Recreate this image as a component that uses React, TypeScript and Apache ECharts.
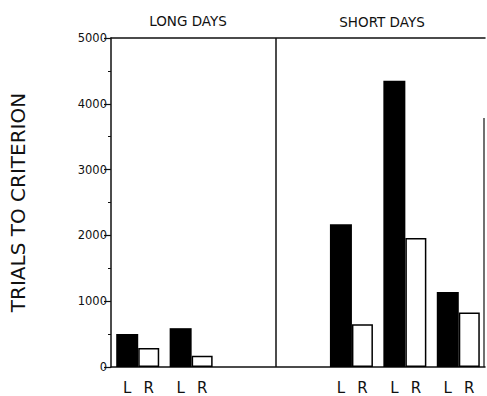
import React, { useEffect, useRef } from "react";
import * as echarts from "echarts";

const categories = ["Long 1", "Long 2", "gap a", "gap b", "Short 1", "Short 2", "Short 3"];
const leftValues: (number | null)[] = [500, 590, null, null, 2170, 4350, 1140];
const rightValues: (number | null)[] = [290, 170, null, null, 650, 1960, 830];
const yTicks = [0, 1000, 2000, 3000, 4000, 5000];
const panelTitles = ["LONG DAYS", "SHORT DAYS"];
const yAxisTitle = "TRIALS TO CRITERION";

export default function App() {
  const ref = useRef<HTMLDivElement>(null);
  useEffect(() => {
    document.body.style.margin = "0";
    if (!ref.current) return;
    const chart = echarts.init(ref.current, null, { renderer: "svg" });
    const gridLeft = 111;
    const gridTop = 38;
    const gridWidth = 374;
    const gridHeight = 329;
    const ink = "#111";
    const font = "DejaVu Sans";
    chart.setOption({
      animation: false,
      backgroundColor: "#fff",
      grid: { left: gridLeft, top: gridTop, width: gridWidth, height: gridHeight },
      xAxis: [
        {
          type: "category",
          data: categories,
          axisLine: { show: true, lineStyle: { color: ink, width: 1.5 } },
          axisTick: { show: false },
          axisLabel: { show: false },
          splitLine: { show: false },
        },
        {
          type: "category",
          position: "top",
          data: categories,
          axisLine: { show: true, lineStyle: { color: ink, width: 1.5 } },
          axisTick: { show: false },
          axisLabel: { show: false },
        },
      ],
      yAxis: {
        type: "value",
        min: yTicks[0],
        max: yTicks[yTicks.length - 1],
        interval: 1000,
        name: yAxisTitle,
        nameLocation: "middle",
        nameGap: 83,
        nameTextStyle: { fontFamily: font, fontSize: 20, color: ink },
        axisLine: { show: true, lineStyle: { color: ink, width: 1.5 } },
        axisTick: { show: true, length: 7, lineStyle: { color: ink, width: 1.2 } },
        minorTick: { show: true, splitNumber: 2, length: 3, lineStyle: { color: ink, width: 1 } },
        axisLabel: {
          fontFamily: font,
          fontSize: 11.5,
          color: ink,
          margin: 4,
          formatter: (v: number) => String(v),
        },
        splitLine: { show: false },
      },
      series: [
        {
          name: "L",
          type: "bar",
          data: leftValues.map((v) => (v === null ? "-" : v)),
          barWidth: 22,
          barGap: "0%",
          itemStyle: { color: "#000" },
          label: {
            show: true,
            position: "bottom",
            distance: 13,
            formatter: "L",
            fontFamily: font,
            fontSize: 15,
            color: ink,
          },
        },
        {
          name: "R",
          type: "bar",
          data: rightValues.map((v) => (v === null ? "-" : v)),
          barWidth: 21,
          barGap: "0%",
          itemStyle: { color: "#fff", borderColor: "#000", borderWidth: 1.5 },
          label: {
            show: true,
            position: "bottom",
            distance: 13,
            formatter: "R",
            fontFamily: font,
            fontSize: 15,
            color: ink,
          },
        },
      ],
      graphic: [
        {
          type: "line",
          shape: { x1: 276, y1: gridTop, x2: 276, y2: gridTop + gridHeight },
          style: { stroke: ink, lineWidth: 1.5 },
        },
        {
          type: "line",
          shape: { x1: gridLeft + gridWidth - 1, y1: 118, x2: gridLeft + gridWidth - 1, y2: gridTop + gridHeight },
          style: { stroke: ink, lineWidth: 1.2 },
        },
        {
          type: "text",
          x: 188,
          y: 21,
          style: {
            text: panelTitles[0],
            fontFamily: font,
            fontSize: 13.5,
            fill: ink,
            align: "center",
            verticalAlign: "middle",
          },
        },
        {
          type: "text",
          x: 382,
          y: 22,
          style: {
            text: panelTitles[1],
            fontFamily: font,
            fontSize: 13.5,
            fill: ink,
            align: "center",
            verticalAlign: "middle",
          },
        },
      ],
    });
    return () => chart.dispose();
  }, []);
  return <div ref={ref} style={{ width: 487, height: 396 }} />;
}
